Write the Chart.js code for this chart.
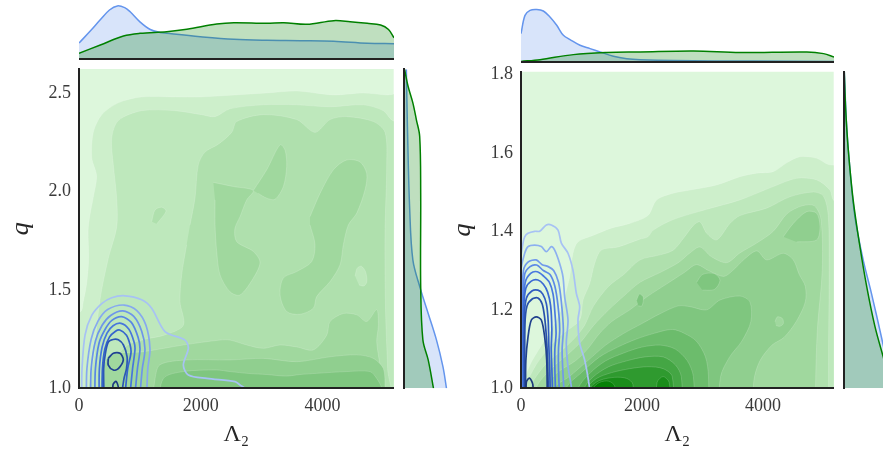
<!DOCTYPE html>
<html>
<head>
<meta charset="utf-8">
<script src="https://cdn.jsdelivr.net/npm/chart.js"></script>
<style>
  body { margin: 0; background: #fff; }
  #wrap { position: relative; width: 883px; height: 455px; overflow: hidden; background: #fff; }
  canvas { position: absolute; top: 0; }
</style>
</head>
<body>
<div id="wrap">
  <canvas id="leftMain" width="400" height="455" style="left:0px"></canvas>
  <canvas id="leftTop" width="315" height="62" style="left:79px"></canvas>
  <canvas id="leftSide" width="61" height="455" style="left:402.3px"></canvas>
  <canvas id="rightMain" width="400" height="455" style="left:440px"></canvas>
  <canvas id="rightTop" width="313" height="65" style="left:521px"></canvas>
  <canvas id="rightSide" width="41" height="455" style="left:842px"></canvas>
</div>
<script>
// axes
const xTicks = [0, 2000, 4000];
const leftQTicks = [1.0, 1.5, 2.0, 2.5];
const rightQTicks = [1.0, 1.2, 1.4, 1.6, 1.8];
const lamMax = 5170;
const leftQMax = 2.622;
const rightQMax = 1.8066;

// marginal densities (relative height of the marginal panel)
const topLeftBlueX = [0, 200, 345, 500, 630, 750, 840, 1000, 1170, 1330, 1440, 1990, 2540, 3080, 3630, 4180, 4730, 5170];
const topLeftBlueY = [0.27, 0.49, 0.66, 0.83, 0.90, 0.87, 0.80, 0.63, 0.50, 0.45, 0.436, 0.378, 0.333, 0.316, 0.31, 0.30, 0.266, 0.26];
const topLeftGreenX = [0, 350, 730, 1000, 1440, 1770, 2260, 2540, 3080, 3360, 3740, 4180, 4450, 4730, 4950, 5080, 5170];
const topLeftGreenY = [0.097, 0.237, 0.39, 0.435, 0.463, 0.503, 0.593, 0.616, 0.605, 0.616, 0.588, 0.65, 0.633, 0.605, 0.576, 0.50, 0.36];

const topRightBlueX = [0, 66, 149, 260, 369, 479, 590, 700, 810, 975, 1141, 1306, 1526, 1747, 1967, 2513, 3850, 5170];
const topRightBlueY = [0.48, 0.79, 0.876, 0.89, 0.864, 0.763, 0.622, 0.452, 0.38, 0.283, 0.227, 0.17, 0.097, 0.057, 0.04, 0.024, 0.015, 0.01];
const topRightGreenX = [0, 314, 865, 1417, 1967, 2849, 3620, 4722, 4998, 5170];
const topRightGreenY = [0.01, 0.04, 0.125, 0.16, 0.17, 0.186, 0.16, 0.17, 0.142, 0.085];

const sideLeftGreenQ = [2.62, 2.533, 2.45, 2.364, 2.279, 1.99, 1.517, 1.246, 1.144, 1.0];
const sideLeftGreenV = [0.01, 0.07, 0.15, 0.21, 0.266, 0.283, 0.283, 0.32, 0.41, 0.50];
const sideLeftBlueQ = [2.62, 2.33, 1.906, 1.652, 1.517, 1.38, 1.246, 1.11, 1.0];
const sideLeftBlueV = [0.04, 0.058, 0.097, 0.15, 0.266, 0.41, 0.55, 0.66, 0.72];

const sideRightGreenQ = [1.806, 1.709, 1.607, 1.48, 1.36, 1.259, 1.157, 1.08, 1.0];
const sideRightGreenV = [0.0, 0.024, 0.068, 0.15, 0.266, 0.38, 0.52, 0.66, 0.80];
const sideRightBlueQ = [1.806, 1.667, 1.556, 1.437, 1.327, 1.242, 1.13, 1.0];
const sideRightBlueV = [0.0, 0.04, 0.097, 0.18, 0.32, 0.46, 0.63, 0.82];

// left joint panel: filled density levels [lambda, q]
const leftL0 = [[-200,0.9],[5400,0.9],[5400,2.8],[-200,2.8]];
const leftL1 = [[-200,1.37],[30,1.39],[70,1.44],[125,1.53],[160,1.66],[150,1.80],[180,1.88],[235,1.97],[290,2.08],[210,2.17],[235,2.30],[375,2.39],[645,2.45],[1030,2.48],[1580,2.48],[1990,2.48],[2560,2.49],[3080,2.50],[3580,2.51],[4180,2.49],[4670,2.50],[5055,2.49],[5400,2.49],[5400,0.9],[-200,0.9]];
const leftL2 = [[5400,2.34],[5150,2.36],[5000,2.41],[4670,2.44],[4124,2.43],[3577,2.44],[3028,2.44],[2481,2.42],[2235,2.38],[2016,2.39],[1577,2.41],[1030,2.41],[646,2.36],[537,2.27],[564,2.135],[619,1.966],[620,1.82],[481,1.66],[345,1.45],[263,1.2],[263,0.9],[5400,0.9]];
const leftL3 = [[1824,1.83],[1906,1.966],[1960,2.135],[2070,2.20],[2289,2.24],[2509,2.30],[2591,2.355],[3028,2.39],[3577,2.365],[3877,2.30],[4124,2.365],[4398,2.38],[4836,2.355],[5028,2.30],[5055,2.135],[5028,1.81],[5030,1.5],[5045,1.3],[5070,1.1],[5080,0.9],[450,0.9],[500,1.0],[600,1.15],[800,1.22],[1100,1.25],[1400,1.27],[1714,1.32],[1659,1.44],[1687,1.576],[1769,1.73]];
const leftL3spot = [[1194,1.847],[1249,1.906],[1359,1.92],[1430,1.90],[1277,1.835]];
const leftL2spot = [[4535,1.57],[4570,1.61],[4640,1.62],[4710,1.59],[4727,1.54],[4680,1.52],[4600,1.525]];
const leftL4a = [[2207,2.046],[2535,2.025],[2864,2.005],[2755,1.957],[2645,1.872],[2560,1.81],[2591,1.745],[2864,1.695],[2974,1.64],[2864,1.56],[2645,1.474],[2481,1.49],[2317,1.576],[2262,1.695],[2235,1.83],[2235,1.957]];
const leftL4b = [[2864,2.005],[3084,2.11],[3303,2.237],[3385,2.21],[3412,2.127],[3357,2.025],[3220,1.96],[3084,1.966],[2946,1.99]];
const leftL4c = [[3795,1.872],[3960,1.99],[4179,2.11],[4398,2.16],[4617,2.15],[4727,2.09],[4699,2.008],[4563,1.89],[4425,1.83],[4343,1.73],[4288,1.627],[4124,1.542],[3905,1.466],[3850,1.407],[3631,1.376],[3412,1.39],[3303,1.474],[3357,1.56],[3577,1.593],[3823,1.644],[3877,1.73],[3795,1.83]];
const leftL4band = [[300,0.9],[400,1.1],[509,1.17],[1057,1.186],[1714,1.22],[2317,1.245],[2481,1.245],[2755,1.22],[3028,1.203],[3303,1.22],[3577,1.21],[3850,1.195],[4070,1.27],[4124,1.339],[4343,1.38],[4563,1.373],[4727,1.339],[4891,1.40],[4918,1.32],[4891,1.237],[4945,1.118],[5000,1.0],[5010,0.9]];
const leftL5 = [[1200,0.9],[1250,1.05],[1331,1.12],[1769,1.144],[2481,1.144],[3028,1.152],[3577,1.135],[4124,1.16],[4563,1.17],[4836,1.152],[5000,1.10],[5028,1.0],[5030,0.9]];
const leftL6 = [[1300,0.9],[1386,1.05],[1714,1.085],[2262,1.093],[2481,1.085],[2800,1.075],[3084,1.07],[3400,1.062],[3631,1.07],[3905,1.076],[4398,1.085],[4781,1.085],[4891,1.05],[4973,1.0],[4980,0.9]];

// left joint panel: contour lines of the second sample
const leftC0 = [[44,0.97],[50,1.1],[99,1.27],[209,1.37],[373,1.43],[537,1.46],[756,1.47],[1030,1.45],[1194,1.407],[1413,1.288],[1742,1.245],[1796,1.203],[1714,1.118],[1796,1.068],[2100,1.05],[2563,1.034],[2645,1.017],[2727,1.0],[2760,0.97]];
const leftC1 = [[120,0.97],[130,1.1],[200,1.25],[310,1.34],[470,1.40],[740,1.423],[950,1.395],[1100,1.32],[1166,1.2],[1130,1.1],[1112,0.97]];
const leftC2 = [[190,0.97],[200,1.1],[270,1.24],[380,1.32],[520,1.37],[720,1.393],[900,1.365],[1030,1.29],[1084,1.2],[1040,1.1],[1002,0.97]];
const leftC3 = [[260,0.97],[270,1.1],[330,1.23],[430,1.30],[540,1.345],[700,1.364],[860,1.335],[970,1.26],[1002,1.2],[960,1.1],[920,0.97]];
const leftC4 = [[330,0.97],[335,1.1],[380,1.21],[460,1.28],[560,1.318],[690,1.33],[820,1.30],[900,1.24],[920,1.2],[880,1.1],[838,0.97]];
const leftC5 = [[380,0.97],[385,1.1],[425,1.2],[500,1.26],[600,1.29],[670,1.296],[780,1.27],[840,1.22],[854,1.18],[800,1.1],[756,0.97]];
const leftC6 = [[410,0.97],[405,1.1],[430,1.17],[481,1.235],[560,1.248],[646,1.246],[730,1.22],[790,1.16],[780,1.1],[740,1.05],[701,0.97]];
const leftC7 = [[481,1.152],[564,1.178],[674,1.178],[728,1.144],[646,1.10],[564,1.093],[481,1.118],[481,1.152]];
const leftC8 = [[560,0.97],[560,1.02],[610,1.035],[650,1.0],[650,0.97]];

// right joint panel: filled density levels
const rightL0 = [[-200,0.9],[5400,0.9],[5400,1.9],[-200,1.9]];
const rightL1 = [[-100,0.95],[0,1.0],[150,1.06],[300,1.1],[500,1.15],[667,1.20],[722,1.233],[805,1.284],[860,1.344],[942,1.373],[1200,1.39],[1493,1.408],[1800,1.42],[2099,1.44],[2243,1.48],[2518,1.497],[2794,1.505],[3235,1.518],[3620,1.539],[3896,1.548],[4171,1.552],[4400,1.575],[4612,1.59],[4888,1.586],[5080,1.57],[5400,1.56],[5400,0.9],[-100,0.9]];
const rightL2 = [[-100,0.95],[50,1.0],[250,1.06],[500,1.11],[700,1.14],[970,1.174],[1025,1.225],[1136,1.267],[1218,1.318],[1327,1.352],[1603,1.36],[1967,1.38],[2099,1.386],[2187,1.403],[2518,1.43],[3070,1.456],[3620,1.48],[4171,1.514],[4557,1.535],[4888,1.531],[5108,1.505],[5163,1.48],[5400,1.45],[5400,0.9],[-100,0.9]];
const rightL3 = [[100,0.9],[150,1.0],[400,1.06],[700,1.10],[900,1.13],[1050,1.16],[1200,1.21],[1450,1.26],[1700,1.29],[1967,1.327],[2300,1.34],[2518,1.352],[2700,1.385],[2850,1.415],[2959,1.424],[3070,1.395],[3235,1.378],[3455,1.42],[3620,1.44],[4061,1.459],[4447,1.488],[4833,1.50],[5000,1.49],[5080,1.44],[5095,1.3],[5085,1.1],[5085,0.9]];
const rightL4 = [[200,0.9],[250,1.0],[500,1.05],[800,1.09],[1000,1.12],[1200,1.16],[1450,1.20],[1700,1.235],[1967,1.27],[2300,1.295],[2600,1.32],[2794,1.345],[2959,1.36],[3150,1.335],[3400,1.32],[3620,1.345],[3896,1.37],[4171,1.40],[4400,1.445],[4650,1.465],[4850,1.465],[4960,1.43],[4980,1.3],[4900,1.15],[4870,1.0],[4880,0.9]];
const rightL5 = [[350,0.9],[400,1.0],[600,1.04],[900,1.07],[1100,1.10],[1300,1.14],[1500,1.17],[1800,1.20],[2100,1.235],[2400,1.265],[2700,1.295],[2900,1.315],[3100,1.30],[3350,1.285],[3500,1.30],[3700,1.33],[3900,1.35],[4061,1.327],[4336,1.344],[4502,1.327],[4600,1.29],[4700,1.26],[4700,1.22],[4550,1.17],[4350,1.13],[4150,1.11],[3950,1.07],[3850,1.02],[3820,0.9]];
const rightL5blob = [[4336,1.386],[4502,1.42],[4723,1.45],[4888,1.446],[4943,1.412],[4888,1.378],[4557,1.373]];
const rightL4spot = [[4199,1.17],[4240,1.182],[4320,1.178],[4337,1.165],[4280,1.158],[4215,1.16]];
const rightL6 = [[500,0.9],[550,1.0],[800,1.03],[1100,1.07],[1400,1.11],[1700,1.14],[2000,1.165],[2300,1.19],[2600,1.21],[2794,1.208],[3070,1.20],[3290,1.225],[3620,1.235],[3785,1.22],[3800,1.17],[3650,1.12],[3450,1.08],[3300,1.03],[3250,0.9]];
const rightL6blobA = [[2904,1.27],[3000,1.29],[3200,1.292],[3290,1.275],[3200,1.252],[3000,1.25]];
const rightL6blobB = [[1912,1.225],[1960,1.24],[2022,1.232],[2000,1.21],[1940,1.21]];
const rightL7 = [[700,0.9],[750,1.0],[1000,1.04],[1300,1.08],[1600,1.105],[1900,1.125],[2200,1.14],[2500,1.15],[2700,1.14],[2900,1.12],[3050,1.08],[3100,1.03],[3100,0.9]];
const rightL8 = [[900,0.9],[950,1.0],[1150,1.04],[1400,1.07],[1700,1.09],[2000,1.105],[2300,1.11],[2550,1.10],[2750,1.07],[2850,1.03],[2880,0.9]];
const rightL9 = [[1000,0.9],[1050,1.0],[1200,1.03],[1450,1.055],[1750,1.07],[2050,1.08],[2350,1.08],[2550,1.06],[2650,1.03],[2680,0.9]];
const rightL10 = [[1080,0.9],[1100,1.0],[1250,1.025],[1500,1.04],[1800,1.05],[2100,1.055],[2350,1.05],[2500,1.03],[2540,0.9]];
const rightL11 = [[1120,0.9],[1150,1.0],[1300,1.02],[1550,1.028],[1750,1.025],[1850,1.01],[1870,0.9]];
const rightL11blob = [[2230,0.95],[2250,1.015],[2350,1.03],[2450,1.015],[2470,0.95]];
const rightL12 = [[1180,0.9],[1200,1.0],[1300,1.015],[1450,1.018],[1550,1.005],[1560,0.9]];

// right joint panel: contour lines of the second sample
const rightC0 = [[-30,0.97],[-30,1.3],[33,1.37],[61,1.386],[116,1.395],[226,1.40],[309,1.40],[419,1.416],[502,1.416],[612,1.403],[667,1.37],[777,1.344],[860,1.30],[915,1.242],[970,1.208],[942,1.174],[970,1.115],[1053,1.072],[1135,1.0],[1150,0.97]];
const rightC1 = [[0,0.97],[0,1.3],[61,1.344],[116,1.361],[226,1.365],[336,1.361],[419,1.348],[502,1.361],[557,1.352],[639,1.318],[694,1.284],[722,1.233],[777,1.174],[749,1.115],[777,1.055],[832,1.004],[840,0.97]];
const rightC2 = [[15,0.97],[15,1.2],[40,1.30],[120,1.322],[250,1.327],[350,1.315],[450,1.31],[540,1.30],[620,1.27],[667,1.22],[700,1.15],[680,1.10],[690,1.05],[720,0.97]];
const rightC3 = [[25,0.97],[25,1.2],[60,1.29],[150,1.31],[260,1.314],[370,1.30],[480,1.29],[560,1.26],[612,1.21],[640,1.15],[620,1.10],[620,1.05],[640,0.97]];
const rightC4 = [[35,0.97],[35,1.2],[70,1.27],[160,1.293],[270,1.297],[380,1.285],[470,1.27],[530,1.24],[557,1.2],[580,1.14],[560,1.10],[560,1.05],[575,0.97]];
const rightC5 = [[45,0.97],[45,1.2],[80,1.255],[170,1.273],[280,1.276],[370,1.265],[440,1.245],[490,1.21],[510,1.15],[500,1.10],[510,1.05],[525,0.97]];
const rightC6 = [[55,0.97],[55,1.18],[90,1.23],[180,1.248],[280,1.25],[360,1.24],[420,1.215],[450,1.17],[460,1.11],[475,1.05],[485,0.97]];
const rightC7 = [[65,0.97],[65,1.16],[100,1.21],[190,1.228],[280,1.23],[350,1.215],[391,1.18],[420,1.13],[440,1.07],[455,0.97]];
const rightC8 = [[75,0.97],[80,1.07],[116,1.131],[171,1.174],[253,1.182],[336,1.174],[391,1.131],[425,1.072],[435,0.97]];
const rightC9 = [[88,0.97],[88,1.015],[140,1.026],[195,1.01],[198,0.97]];

// styles
const greens = ['#ddf7dc', '#cdefcb', '#bee8bc', '#afe0ad', '#a0d89e', '#90cf8f', '#7fc67f',
                '#6cbc6c', '#58b158', '#44a644', '#2f9a2f', '#1a8d1a', '#068106'];
const leftBlues = ['#a7c2f4', '#86a9ef', '#6e96ea', '#5886e4', '#4676dc', '#3665cd', '#2b56b5', '#1f4192', '#1c3a82'];
const rightBlues = ['#a7c2f4', '#8cb0f0', '#7099eb', '#5c89e6', '#4a79df', '#3c6ad3', '#305bc0', '#2850ab', '#20418d', '#1c397c'];
const spine = '#222222';
const blueLine = '#6495ed';
const blueFill = 'rgba(100,149,237,0.25)';
const greenLine = '#008000';
const greenFill = 'rgba(0,128,0,0.25)';

Chart.defaults.font.family = "'Liberation Serif', 'DejaVu Serif', serif";

const toPts = a => a.map(([x, y]) => ({ x, y }));

// Chart.js paints the first dataset last, so give later entries a lower order
const stackUp = sets => sets.map((d, i) => Object.assign(d, { order: sets.length - i }));

function level(points, color) {
  return { data: toPts(points), fill: 'shape', backgroundColor: color,
    borderColor: 'rgba(255,255,255,0.28)', borderWidth: 0.6, pointRadius: 0, tension: 0.3 };
}

function contour(points, color) {
  return { data: toPts(points), fill: false, borderColor: color,
    borderWidth: 1.7, pointRadius: 0, tension: 0.3 };
}

function mainChart(id, datasets, qMax, qTicks, padTop, yAxisW, yTitlePad) {
  new Chart(document.getElementById(id), {
    type: 'line',
    data: { datasets: stackUp(datasets) },
    options: {
      responsive: false, animation: false, events: [],
      layout: { padding: { top: padTop, right: 6.3, left: 0, bottom: 0 } },
      plugins: { legend: { display: false }, tooltip: { enabled: false } },
      elements: { point: { radius: 0 }, line: { capBezierPoints: false } },
      scales: {
        x: {
          type: 'linear', min: 0, max: lamMax,
          grid: { display: false, drawTicks: false },
          border: { display: true, color: spine, width: 2, z: 1 },
          afterBuildTicks: s => { s.ticks = xTicks.map(v => ({ value: v })); },
          afterFit: s => { s.height = 66.7; },
          ticks: { padding: 7, color: '#3a3a3a', font: { size: 18 }, maxRotation: 0, callback: v => String(v) },
          title: { display: true, text: 'Λ₂', color: '#262626', font: { size: 24 }, padding: { top: 0, bottom: 5.6 } }
        },
        y: {
          type: 'linear', min: 1.0, max: qMax,
          grid: { display: false, drawTicks: false },
          border: { display: true, color: spine, width: 2, z: 1 },
          afterBuildTicks: s => { s.ticks = qTicks.map(v => ({ value: v })); },
          afterFit: s => { s.width = yAxisW; },
          ticks: { padding: 8, color: '#3a3a3a', font: { size: 18 }, callback: v => v.toFixed(1) },
          title: { display: true, text: 'q', color: '#262626', font: { size: 26, style: 'italic' }, padding: { top: yTitlePad, bottom: 0 } }
        }
      }
    }
  });
}

function topChart(id, blueX, blueY, greenX, greenY, padTop) {
  const mk = (xs, ys, line, fill) => ({
    data: xs.map((x, i) => ({ x, y: ys[i] })), fill: 'origin',
    borderColor: line, backgroundColor: fill, borderWidth: 1.5, pointRadius: 0, tension: 0.35
  });
  new Chart(document.getElementById(id), {
    type: 'line',
    data: { datasets: stackUp([mk(blueX, blueY, blueLine, blueFill), mk(greenX, greenY, greenLine, greenFill)]) },
    options: {
      responsive: false, animation: false, events: [],
      layout: { padding: { top: padTop, right: 0, left: 0, bottom: 0 } },
      plugins: { legend: { display: false }, tooltip: { enabled: false } },
      elements: { point: { radius: 0 } },
      scales: {
        x: {
          type: 'linear', min: 0, max: lamMax,
          grid: { display: false, drawTicks: false }, ticks: { display: false },
          border: { display: true, color: spine, width: 2, z: 1 },
          afterFit: s => { s.height = 3; }
        },
        y: { type: 'linear', min: 0, max: 1, display: false }
      }
    }
  });
}

function sideChart(id, blueQ, blueV, greenQ, greenV, qMax, padTop, vMax, axisW) {
  const mk = (qs, vs, line, fill) => ({
    data: qs.map((q, i) => ({ x: vs[i], y: q })), fill: 'origin',
    borderColor: line, backgroundColor: fill, borderWidth: 1.5, pointRadius: 0, tension: 0.35
  });
  new Chart(document.getElementById(id), {
    type: 'line',
    data: { datasets: stackUp([mk(blueQ, blueV, blueLine, blueFill), mk(greenQ, greenV, greenLine, greenFill)]) },
    options: {
      indexAxis: 'y',
      responsive: false, animation: false, events: [],
      layout: { padding: { top: padTop, right: 0, left: 0, bottom: 66.7 } },
      plugins: { legend: { display: false }, tooltip: { enabled: false } },
      elements: { point: { radius: 0 } },
      scales: {
        y: {
          type: 'linear', min: 1.0, max: qMax,
          grid: { display: false, drawTicks: false }, ticks: { display: false },
          border: { display: true, color: spine, width: 2, z: 1 },
          afterFit: s => { s.width = axisW; }
        },
        x: { type: 'linear', min: 0, max: vMax, display: false }
      }
    }
  });
}

const leftSets = [
  level(leftL0, greens[0]), level(leftL1, greens[1]), level(leftL2, greens[2]),
  level(leftL3spot, greens[3]), level(leftL3, greens[3]), level(leftL2spot, greens[2]),
  level(leftL4a, greens[4]), level(leftL4b, greens[4]), level(leftL4c, greens[4]),
  level(leftL4band, greens[4]), level(leftL5, greens[5]), level(leftL6, greens[6]),
  ...[leftC0, leftC1, leftC2, leftC3, leftC4, leftC5, leftC6, leftC7, leftC8].map((c, i) => contour(c, leftBlues[i]))
];

const rightSets = [
  level(rightL0, greens[0]), level(rightL1, greens[1]), level(rightL2, greens[2]),
  level(rightL3, greens[3]), level(rightL4, greens[4]), level(rightL5blob, greens[5]),
  level(rightL5, greens[5]), level(rightL4spot, greens[4]),
  level(rightL6, greens[6]), level(rightL6blobA, greens[6]), level(rightL6blobB, greens[6]),
  level(rightL7, greens[7]), level(rightL8, greens[8]), level(rightL9, greens[9]),
  level(rightL10, greens[10]), level(rightL11, greens[11]), level(rightL11blob, greens[11]),
  level(rightL12, greens[12]),
  ...[rightC0, rightC1, rightC2, rightC3, rightC4, rightC5, rightC6, rightC7, rightC8, rightC9].map((c, i) => contour(c, rightBlues[i]))
];

mainChart('leftMain', leftSets, leftQMax, leftQTicks, 69, 79, 6);
mainChart('rightMain', rightSets, rightQMax, rightQTicks, 71.7, 81, 7.4);
topChart('leftTop', topLeftBlueX, topLeftBlueY, topLeftGreenX, topLeftGreenY, 0);
topChart('rightTop', topRightBlueX, topRightBlueY, topRightGreenX, topRightGreenY, 3);
sideChart('leftSide', sideLeftBlueQ, sideLeftBlueV, sideLeftGreenQ, sideLeftGreenV, leftQMax, 69, 1, 2);
sideChart('rightSide', sideRightBlueQ, sideRightBlueV, sideRightGreenQ, sideRightGreenV, rightQMax, 71.7, 38.7 / 59, 2.3);
</script>
</body>
</html>
